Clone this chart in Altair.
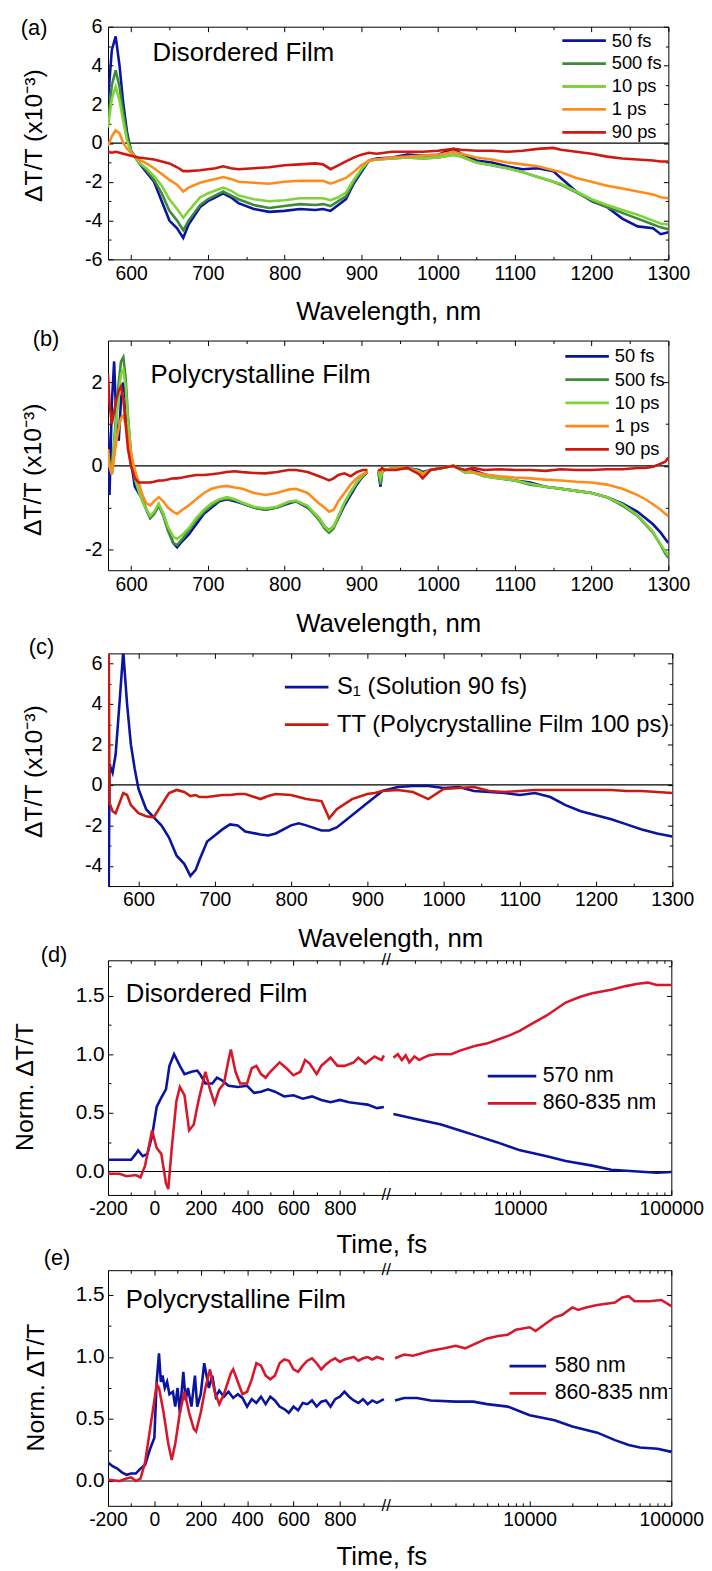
import altair as alt
import pandas as pd

FONT = "Liberation Sans"
TM, Tm = 5, 3

# ---------------- panel (a): disordered film ----------------
wl_a = [570, 575, 580, 585, 590, 595, 600, 610, 620, 630, 640, 650, 660, 668, 675,
        690, 700, 710, 720, 730, 740, 760, 780, 800, 820, 840, 850, 860, 870, 880,
        890, 900, 910, 920, 940, 960, 980, 1000, 1020, 1030, 1050, 1070, 1090, 1110,
        1130, 1150, 1160, 1180, 1200, 1220, 1240, 1260, 1280, 1290, 1300]
a_50fs = [2.2, 4.8, 5.5, 4.0, 2.0, 0.5, -0.4, -1.0, -1.5, -2.0, -3.0, -4.0, -4.4, -4.9, -4.2,
          -3.3, -3.0, -2.8, -2.6, -2.8, -3.1, -3.4, -3.55, -3.5, -3.4, -3.45, -3.4, -3.5, -3.2, -2.9,
          -2.1, -1.5, -0.9, -0.8, -0.75, -0.6, -0.65, -0.6, -0.3, -0.55, -0.9, -1.0, -1.2, -1.35,
          -1.3, -1.45, -1.8, -2.5, -3.0, -3.3, -3.9, -4.3, -4.4, -4.7, -4.6]
a_500fs = [1.0, 3.0, 3.75, 2.9, 1.5, 0.3, -0.4, -1.0, -1.4, -1.9, -2.6, -3.5, -4.0, -4.5, -4.0,
           -3.2, -2.9, -2.7, -2.5, -2.7, -2.9, -3.2, -3.35, -3.25, -3.15, -3.2, -3.15, -3.25, -3.0, -2.75,
           -2.0, -1.4, -0.9, -0.85, -0.8, -0.75, -0.8, -0.75, -0.6, -0.7, -1.0, -1.15, -1.3, -1.5,
           -1.75, -2.0, -2.15, -2.55, -2.95, -3.3, -3.6, -3.9, -4.2, -4.35, -4.45]
a_10ps = [0.8, 2.3, 2.9, 2.2, 1.1, 0.1, -0.45, -1.0, -1.3, -1.7, -2.2, -2.9, -3.4, -3.85, -3.5,
          -2.8, -2.6, -2.45, -2.3, -2.45, -2.7, -2.9, -3.0, -2.95, -2.85, -2.85, -2.85, -2.95, -2.8, -2.55,
          -1.9, -1.35, -0.9, -0.85, -0.8, -0.75, -0.8, -0.75, -0.6, -0.7, -1.0, -1.15, -1.3, -1.5,
          -1.75, -2.0, -2.1, -2.5, -2.9, -3.2, -3.45, -3.7, -4.0, -4.15, -4.2]
a_1ps = [-0.15, 0.35, 0.65, 0.5, 0.0, -0.3, -0.5, -0.85, -1.05, -1.3, -1.6, -1.9, -2.15, -2.5, -2.3,
         -2.05, -1.95, -1.85, -1.75, -1.85, -2.0, -2.05, -2.1, -2.0, -1.95, -1.95, -1.95, -2.1, -1.95, -1.8,
         -1.5, -1.15, -0.9, -0.85, -0.75, -0.7, -0.65, -0.6, -0.45, -0.55, -0.75, -0.85, -1.0, -1.1,
         -1.2, -1.4, -1.5, -1.8, -2.0, -2.2, -2.35, -2.5, -2.65, -2.8, -2.85]
a_90ps = [-0.45, -0.5, -0.45, -0.5, -0.55, -0.6, -0.65, -0.75, -0.8, -0.85, -0.95, -1.05, -1.25, -1.45, -1.45,
          -1.4, -1.35, -1.3, -1.2, -1.3, -1.35, -1.3, -1.25, -1.15, -1.1, -1.05, -1.1, -1.35, -1.15, -0.95,
          -0.75, -0.6, -0.5, -0.55, -0.45, -0.45, -0.45, -0.4, -0.3, -0.35, -0.4, -0.4, -0.45, -0.4,
          -0.3, -0.25, -0.35, -0.45, -0.55, -0.7, -0.8, -0.85, -0.9, -0.95, -0.95]

# ---------------- panel (b): polycrystalline film ----------------
wl_b1 = [570, 572, 575, 578, 581, 584, 587, 590, 593, 596, 600, 605, 610, 615, 620, 625, 630, 636,
         642, 648, 655, 660, 667, 675, 685, 695, 705, 715, 725, 735, 745, 760, 775, 790, 805, 815,
         830, 845, 852, 858, 864, 870, 878, 886, 894, 902, 908]
wl_b2 = [922, 925, 927, 930, 945, 960, 975, 980, 990, 1005, 1020, 1025, 1035, 1045, 1060, 1080,
         1100, 1120, 1140, 1160, 1180, 1200, 1220, 1240, 1260, 1270, 1280, 1290, 1296, 1300]
b1_50fs = [0.8, -0.7, 1.5, 2.5, 1.0, 0.6, 1.6, 2.0, 1.6, 0.9, 0.1, -0.5, -0.65, -0.8, -1.05, -1.25, -1.15, -0.95,
           -1.15, -1.5, -1.85, -1.95, -1.8, -1.65, -1.4, -1.15, -1.0, -0.85, -0.8, -0.85, -0.9, -1.0, -1.05, -1.0,
           -0.9, -0.85, -1.0, -1.25, -1.45, -1.55, -1.45, -1.25, -0.95, -0.7, -0.45, -0.25, -0.15]
b2_50fs = [-0.1, -0.5, -0.15, -0.1, -0.05, -0.05, -0.1, -0.15, -0.1, -0.05, 0.0, -0.05, -0.15, -0.1, -0.2, -0.3,
           -0.35, -0.4, -0.5, -0.55, -0.6, -0.65, -0.75, -0.9, -1.1, -1.25, -1.4, -1.6, -1.75, -1.85]
b1_500fs = [0.4, 0.0, -0.2, 0.6, 1.3, 2.0, 2.5, 2.6, 2.1, 1.2, 0.3, -0.3, -0.6, -0.85, -1.05, -1.25, -1.15, -0.95,
            -1.2, -1.55, -1.85, -1.9, -1.75, -1.55, -1.3, -1.1, -0.95, -0.82, -0.78, -0.82, -0.9, -1.0, -1.05, -1.0,
            -0.88, -0.85, -0.98, -1.3, -1.5, -1.6, -1.5, -1.25, -0.9, -0.65, -0.4, -0.25, -0.15]
b2_500fs = [-0.1, -0.45, -0.15, -0.1, -0.05, -0.05, -0.15, -0.2, -0.1, -0.05, 0.0, -0.05, -0.15, -0.15, -0.25, -0.3,
            -0.35, -0.45, -0.5, -0.55, -0.6, -0.65, -0.75, -0.95, -1.2, -1.4, -1.6, -1.9, -2.1, -2.2]
b1_10ps = [0.3, 0.0, -0.2, 0.5, 1.1, 1.7, 2.2, 2.3, 1.9, 1.1, 0.3, -0.3, -0.6, -0.85, -1.05, -1.2, -1.1, -0.9,
           -1.15, -1.45, -1.7, -1.75, -1.65, -1.5, -1.25, -1.05, -0.9, -0.8, -0.75, -0.8, -0.88, -0.98, -1.02, -0.98,
           -0.86, -0.83, -0.96, -1.25, -1.45, -1.55, -1.45, -1.2, -0.88, -0.62, -0.4, -0.22, -0.12]
b2_10ps = [-0.1, -0.3, -0.15, -0.1, -0.05, -0.05, -0.12, -0.18, -0.1, -0.05, 0.0, -0.05, -0.15, -0.15, -0.25, -0.3,
           -0.35, -0.43, -0.5, -0.55, -0.6, -0.65, -0.75, -0.92, -1.18, -1.38, -1.58, -1.88, -2.05, -2.15]
b1_1ps = [0.4, 0.0, -0.2, 0.2, 0.6, 0.9, 1.15, 1.2, 1.0, 0.7, 0.3, -0.1, -0.4, -0.7, -0.9, -0.95, -0.85, -0.75,
          -0.85, -1.0, -1.1, -1.15, -1.05, -0.95, -0.8, -0.65, -0.55, -0.5, -0.48, -0.52, -0.55, -0.65, -0.7, -0.65,
          -0.57, -0.55, -0.65, -0.9, -1.0, -1.1, -1.05, -0.85, -0.65, -0.45, -0.3, -0.2, -0.15]
b2_1ps = [-0.1, -0.15, -0.1, -0.1, -0.05, -0.05, -0.15, -0.2, -0.1, -0.05, 0.0, -0.05, -0.1, -0.15, -0.2, -0.25,
          -0.28, -0.3, -0.33, -0.35, -0.38, -0.4, -0.45, -0.55, -0.7, -0.8, -0.92, -1.05, -1.15, -1.2]
b1_90ps = [2.2, 1.5, 1.0, 1.3, 1.6, 1.8, 1.9, 1.6, 1.0, 0.4, 0.0, -0.3, -0.4, -0.4, -0.4, -0.4, -0.38, -0.35,
           -0.35, -0.33, -0.3, -0.3, -0.28, -0.25, -0.22, -0.22, -0.2, -0.18, -0.15, -0.13, -0.15, -0.17, -0.18, -0.15,
           -0.1, -0.1, -0.15, -0.25, -0.3, -0.35, -0.3, -0.22, -0.18, -0.25, -0.15, -0.1, -0.1]
b2_90ps = [-0.1, -0.1, -0.05, -0.1, -0.1, -0.05, -0.2, -0.3, -0.1, -0.05, 0.0, -0.05, -0.1, -0.05, -0.1, -0.08,
           -0.1, -0.1, -0.12, -0.08, -0.1, -0.1, -0.08, -0.08, -0.05, -0.05, -0.02, 0.05, 0.1, 0.2]

# ---------------- panel (c): S1 vs TT ----------------
wl_c = [561, 562, 566, 570, 575, 580, 585, 590, 595, 600, 610, 620, 630, 640, 650, 660, 668, 675, 680, 690,
        700, 710, 720, 730, 740, 760, 770, 780, 800, 810, 820, 840, 850, 860, 880, 900, 910, 920, 940, 960,
        980, 1000, 1020, 1040, 1060, 1080, 1100, 1120, 1140, 1160, 1180, 1200, 1220, 1240, 1260, 1280, 1300]
c_s1 = [-5.0, 1.0, 0.6, 1.5, 4.0, 6.6, 4.0, 2.0, 0.8, -0.2, -1.2, -1.6, -2.0, -2.6, -3.5, -3.9, -4.5, -4.2, -3.7, -2.8,
        -2.5, -2.2, -1.95, -2.0, -2.3, -2.45, -2.5, -2.4, -2.0, -1.9, -2.0, -2.25, -2.25, -2.1, -1.5, -0.9, -0.6, -0.3, -0.1, -0.05,
        -0.05, -0.15, -0.1, -0.3, -0.35, -0.4, -0.5, -0.4, -0.6, -1.0, -1.3, -1.5, -1.7, -1.95, -2.2, -2.4, -2.55]
c_tt = [6.5, -0.9, -1.3, -1.4, -0.9, -0.4, -0.5, -1.0, -1.2, -1.4, -1.55, -1.6, -1.0, -0.4, -0.25, -0.35, -0.55, -0.5, -0.6, -0.6,
        -0.55, -0.5, -0.5, -0.45, -0.45, -0.7, -0.55, -0.45, -0.5, -0.6, -0.7, -0.8, -1.65, -1.2, -0.7, -0.45, -0.4, -0.3, -0.25, -0.35,
        -0.7, -0.2, -0.15, -0.1, -0.3, -0.35, -0.3, -0.25, -0.25, -0.25, -0.25, -0.25, -0.25, -0.3, -0.3, -0.35, -0.4]

# ---------------- panel (d): disordered film kinetics ----------------
d_570_t1 = [-200, -150, -100, -80, -70, -50, -30, -10, 10, 30, 50, 65, 85, 110, 130, 160, 185, 200, 220, 250,
            270, 290, 320, 360, 400, 430, 460, 490, 520, 560, 600, 640, 680, 720, 760, 800, 840, 880, 920, 960, 990]
d_570_v1 = [0.1, 0.1, 0.1, 0.15, 0.18, 0.13, 0.15, 0.3, 0.55, 0.63, 0.7, 0.9, 1.0, 0.9, 0.83, 0.85, 0.86, 0.82, 0.75, 0.75,
            0.8, 0.78, 0.73, 0.72, 0.73, 0.67, 0.68, 0.7, 0.68, 0.64, 0.65, 0.62, 0.64, 0.61, 0.59, 0.61, 0.59, 0.58, 0.57, 0.54, 0.55]
d_860_t1 = [-200, -150, -120, -80, -60, -40, -10, 10, 30, 50, 60, 75, 95, 110, 130, 150, 170, 190, 220, 240,
            260, 280, 300, 320, 330, 350, 370, 400, 420, 440, 460, 480, 500, 540, 570, 600, 630, 650, 670, 700,
            720, 760, 790, 820, 860, 880, 910, 950, 980, 990]
d_860_v1 = [-0.02, -0.02, -0.04, -0.03, -0.05, 0.05, 0.35, 0.2, 0.15, -0.1, -0.15, 0.2, 0.6, 0.72, 0.65, 0.35, 0.4, 0.6, 0.85, 0.7,
            0.58, 0.7, 0.75, 0.95, 1.04, 0.85, 0.75, 0.75, 0.88, 0.9, 0.83, 0.8, 0.85, 0.93, 0.88, 0.82, 0.85, 0.95, 0.92, 0.83,
            0.9, 0.97, 0.9, 0.9, 0.93, 0.97, 0.92, 0.98, 0.95, 0.99]
d_570_t2 = [1450, 2000, 3000, 4000, 5000, 7000, 10000, 15000, 20000, 30000, 40000, 60000, 80000, 100000]
d_570_v2 = [0.49, 0.45, 0.40, 0.35, 0.31, 0.25, 0.18, 0.13, 0.09, 0.05, 0.015, 0.0, -0.01, -0.005]
d_860_t2 = [1450, 1550, 1650, 1750, 1850, 2000, 2150, 2300, 2500, 2800, 3000, 3500, 4000, 5000, 6000, 7000, 8500,
            10000, 12000, 15000, 20000, 25000, 30000, 40000, 50000, 60000, 70000, 80000, 100000]
d_860_v2 = [0.97, 1.0, 0.95, 0.99, 0.93, 0.98, 0.95, 0.97, 0.99, 1.0, 1.0, 1.0, 1.03, 1.07, 1.09, 1.12, 1.16,
            1.2, 1.26, 1.33, 1.44, 1.49, 1.52, 1.55, 1.58, 1.6, 1.61, 1.59, 1.59]

# ---------------- panel (e): polycrystalline film kinetics ----------------
e_580_t1 = [-200, -180, -160, -140, -120, -100, -80, -60, -40, -20, 0, 10, 20, 28, 35, 45, 55, 65, 80, 90,
            100, 110, 125, 135, 145, 160, 175, 185, 200, 215, 225, 235, 250, 265, 280, 300, 320, 340, 360, 380,
            400, 420, 440, 460, 480, 500, 520, 540, 560, 580, 600, 620, 640, 660, 680, 700, 720, 740, 760, 780,
            800, 820, 840, 860, 880, 900, 920, 940, 960, 990]
e_580_v1 = [0.15, 0.12, 0.1, 0.07, 0.05, 0.06, 0.06, 0.1, 0.13, 0.25, 0.35, 0.8, 1.03, 0.8, 0.85, 0.75, 0.8, 0.7, 0.72, 0.6,
            0.75, 0.55, 0.88, 0.65, 0.75, 0.6, 0.85, 0.6, 0.7, 0.95, 0.85, 0.75, 0.85, 0.68, 0.73, 0.68, 0.72, 0.67, 0.7, 0.67,
            0.6, 0.66, 0.63, 0.68, 0.62, 0.68, 0.65, 0.6, 0.58, 0.55, 0.6, 0.57, 0.63, 0.62, 0.65, 0.6, 0.64, 0.65, 0.6, 0.66,
            0.68, 0.72, 0.68, 0.65, 0.63, 0.66, 0.62, 0.65, 0.63, 0.66]
e_860_t1 = [-200, -150, -120, -100, -80, -60, -40, -20, 0, 10, 20, 40, 60, 75, 90, 110, 130, 150, 170, 180,
            200, 220, 240, 260, 280, 300, 330, 340, 360, 380, 400, 420, 440, 460, 480, 500, 520, 540, 560, 580,
            600, 620, 640, 660, 680, 700, 720, 740, 760, 780, 800, 820, 840, 860, 880, 900, 920, 940, 960, 990]
e_860_v1 = [0.01, 0.0, 0.02, 0.03, 0.0, 0.02, 0.15, 0.4, 0.65, 0.78, 0.75, 0.55, 0.3, 0.17, 0.3, 0.55, 0.72, 0.55, 0.42, 0.4,
            0.55, 0.75, 0.9, 0.72, 0.62, 0.7, 0.87, 0.9, 0.8, 0.7, 0.72, 0.82, 0.95, 0.93, 0.85, 0.82, 0.85, 0.95, 0.98, 0.97,
            0.9, 0.88, 0.93, 0.97, 0.99, 0.95, 0.9, 0.94, 0.97, 0.99, 0.96, 0.98, 0.99, 1.0, 0.97, 0.99, 1.0, 0.98, 1.0, 0.98]
e_580_t2 = [1120, 1300, 1600, 2000, 3000, 4000, 5000, 7000, 10000, 15000, 20000, 30000, 40000, 50000, 60000, 80000, 100000]
e_580_v2 = [0.65, 0.67, 0.67, 0.65, 0.64, 0.64, 0.62, 0.6, 0.53, 0.49, 0.44, 0.39, 0.33, 0.29, 0.27, 0.26, 0.235]
e_860_t2 = [1120, 1300, 1500, 2000, 2500, 3000, 3500, 4000, 5000, 6000, 7000, 8000, 10000, 11000, 13000, 15000, 17000,
            20000, 22000, 25000, 30000, 40000, 45000, 50000, 55000, 70000, 85000, 100000]
e_860_v2 = [0.99, 1.02, 1.01, 1.05, 1.07, 1.09, 1.07, 1.1, 1.15, 1.17, 1.18, 1.22, 1.24, 1.21, 1.27, 1.32, 1.34,
            1.4, 1.38, 1.4, 1.42, 1.44, 1.48, 1.49, 1.45, 1.45, 1.46, 1.41]

# ---------------- series names / colours ----------------
names_ab = ["50 fs", "500 fs", "10 ps", "1 ps", "90 ps"]
colors_ab = ["#0a14a0", "#3c8c36", "#7ed23a", "#ff8c1a", "#cc1a10"]
names_c = ["S\u2081 (Solution 90 fs)", "TT (Polycrystalline Film 100 ps)"]
colors_c = ["#0a14a0", "#cc1a10"]
names_d = ["570 nm", "860-835 nm"]
names_e = ["580 nm", "860-835 nm"]
colors_de = ["#0a14a0", "#d8182a"]


def series_df(entries):
    rows = []
    for name, seg, xs, ys in entries:
        if len(xs) != len(ys):
            raise ValueError(f"length mismatch {name}/{seg}: {len(xs)} vs {len(ys)}")
        for xv, yv in zip(xs, ys):
            rows.append({"x": xv, "y": yv, "s": name, "k": f"{name}|{seg}"})
    return pd.DataFrame(rows)


ONE = pd.DataFrame({"z": [0]})


def tick_axis(orient, values, size):
    return alt.Axis(orient=orient, values=values, tickSize=size, offset=-size, ticks=True,
                    tickColor="black", tickWidth=1, domain=False, grid=False, labels=False, title=None)


def dom_axis(orient):
    return alt.Axis(orient=orient, domain=True, domainColor="black", domainWidth=1, ticks=False,
                    labels=False, grid=False, title=None)


def leg(line_x, row1_y, fs, spacing, length, gap=4):
    s = length / 3.0
    rowh = max(s, fs)
    return alt.Legend(orient="none", legendX=line_x + s, legendY=row1_y - rowh / 2, title=None,
                      symbolType="M-3,0H3", symbolSize=s * s, symbolStrokeWidth=2.8,
                      labelFontSize=fs, labelFont=FONT, labelColor="black",
                      rowPadding=spacing - rowh, labelOffset=s + gap, labelLimit=600, padding=0)


def text_layer(txt, x, y, size, align="left"):
    return alt.Chart(ONE).mark_text(text=txt, fontSize=size, font=FONT, align=align,
                                    baseline="middle", color="black").encode(
        x=alt.value(x), y=alt.value(y))


def panel(df, names, colors, legend, xdom, ydom, w, h, xmaj, xmin, ymaj, ymin,
          xtype="linear", left=True, right=True, xtitle=None, xtitle_x=None, xtitle_y=53,
          ytitle=None, ytitle_x=-75, ytitle_y=None, ylabpad=6, ylabsize=20,
          yexpr="datum.value + ''", texts=(), marker=None):
    if xtype == "log":
        xsc = alt.Scale(domain=xdom, type="log", nice=False)
    else:
        xsc = alt.Scale(domain=xdom, nice=False, zero=False)
    ysc = alt.Scale(domain=ydom, nice=False, zero=False)

    def X(ax):
        return alt.X("x:Q", scale=xsc, axis=ax)

    def Y(ax):
        return alt.Y("y:Q", scale=ysc, axis=ax)

    xa = dict(orient="bottom", values=xmaj, tickSize=TM, offset=-TM, ticks=True, tickColor="black",
              tickWidth=1, domain=False, grid=False, labels=True, labelFont=FONT, labelFontSize=19.5,
              labelColor="black", labelPadding=5, labelExpr="datum.value + ''", labelFlush=False,
              labelOverlap=False)
    if xtitle:
        xa.update(title=xtitle, titleFont=FONT, titleFontSize=26, titleFontWeight="normal",
                  titleColor="black", titleX=(xtitle_x if xtitle_x is not None else w / 2),
                  titleY=xtitle_y + TM, titleBaseline="middle", titleAlign="center")
    else:
        xa["title"] = None
    ya = None
    if left:
        ya = alt.Axis(orient="left", values=ymaj, tickSize=TM, offset=-TM, ticks=True, tickColor="black",
                      tickWidth=1, domain=False, grid=False, labels=True, labelFont=FONT,
                      labelFontSize=ylabsize, labelColor="black", labelPadding=ylabpad, labelExpr=yexpr,
                      labelFlush=False, labelOverlap=False, title=ytitle, titleFont=FONT,
                      titleFontSize=25, titleFontWeight="normal", titleColor="black",
                      titleX=ytitle_x - TM, titleY=(ytitle_y if ytitle_y is not None else h / 2),
                      titleBaseline="middle", titleAlign="center", titleAngle=270)

    lines = alt.Chart(df).mark_line(strokeWidth=2.6, clip=True).encode(
        x=X(alt.Axis(**xa)), y=Y(ya),
        color=alt.Color("s:N", scale=alt.Scale(domain=names, range=colors), legend=legend),
        detail="k:N")
    inv = alt.Chart(df).mark_point(opacity=0, clip=True)
    layers = [
        inv.encode(x=X(dom_axis("bottom")), y=Y(dom_axis("left") if left else None)),
        inv.encode(x=X(dom_axis("top")), y=Y(dom_axis("right") if right else None)),
        inv.encode(x=X(tick_axis("bottom", xmin, Tm)), y=Y(tick_axis("left", ymin, Tm) if left else None)),
        inv.encode(x=X(tick_axis("top", xmaj, TM)), y=Y(tick_axis("right", ymaj, TM) if right else None)),
        inv.encode(x=X(tick_axis("top", xmin, Tm)), y=Y(tick_axis("right", ymin, Tm) if right else None)),
        alt.Chart(pd.DataFrame({"y": [0]})).mark_rule(color="black", strokeWidth=1.2).encode(y=Y(None)),
        lines,
    ]
    layers += list(texts)
    if marker is not None:
        top, bottom = marker
        layers.append(alt.Chart(ONE).mark_rule(strokeOpacity=0, stroke="white").encode(
            x=alt.value(-100), y=alt.value(-top), y2=alt.value(h + bottom)))
    return alt.layer(*layers).resolve_axis(x="independent", y="independent").properties(
        width=w, height=h)


W = 566
wl_maj = [600, 700, 800, 900, 1000, 1100, 1200, 1300]
wl_min = [650, 750, 850, 950, 1050, 1150, 1250]
YT = "\u0394T/T (x10\u207b\u00b3)"

# (a)
HA = 235
df_a = series_df([(n, 0, wl_a, v) for n, v in zip(names_ab, [a_50fs, a_500fs, a_10ps, a_1ps, a_90ps])])
pa = panel(df_a, names_ab, colors_ab, leg(457, 14, 18.5, 22.7, 44), [570, 1300], [-6, 6], W, HA,
           wl_maj, wl_min, [-6, -4, -2, 0, 2, 4, 6], [-5, -3, -1, 1, 3, 5],
           xtitle="Wavelength, nm", xtitle_y=53, ytitle=YT, ytitle_x=-75, ytitle_y=HA / 2 - 8,
           texts=[text_layer("(a)", -88, 1, 22), text_layer("Disordered Film", 45, 27, 26)],
           marker=(11, 70))

# (b)
df_b = series_df([(n, 1, wl_b1, v1) for n, v1 in zip(names_ab, [b1_50fs, b1_500fs, b1_10ps, b1_1ps, b1_90ps])] +
                 [(n, 2, wl_b2, v2) for n, v2 in zip(names_ab, [b2_50fs, b2_500fs, b2_10ps, b2_1ps, b2_90ps])])
pb = panel(df_b, names_ab, colors_ab, leg(460, 16, 18.5, 23, 44), [570, 1300], [-2.5, 3], W, 232,
           wl_maj, wl_min, [-2, 0, 2], [-1, 1], xtitle="Wavelength, nm", xtitle_y=54,
           ytitle=YT, ytitle_x=-76, ytitle_y=116 + 14,
           texts=[text_layer("(b)", -76, -1, 22), text_layer("Polycrystalline Film", 43, 35, 26)],
           marker=(32, 70))

# (c)
df_c = series_df([(names_c[0], 0, wl_c, c_s1), (names_c[1], 0, wl_c, c_tt)])
pc = panel(df_c, names_c, colors_c, leg(174, 34, 24, 38, 44), [560, 1300], [-5, 6.5], 570, 235,
           wl_maj, wl_min, [-4, -2, 0, 2, 4, 6], [-5, -3, -1, 1, 3, 5], xtitle="Wavelength, nm",
           xtitle_y=53, ytitle=YT, ytitle_x=-75, ytitle_y=117 + 2,
           texts=[text_layer("(c)", -80, -6, 22)], marker=(34, 70))

# (d)
WL, WR = 281, 288
t_maj = [-200, 0, 200, 400, 600, 800]
t_min = [-100, 100, 300, 500, 700, 900]
log_maj = [10000, 100000]
log_min = [2000, 3000, 4000, 5000, 6000, 7000, 8000, 9000,
           20000, 30000, 40000, 50000, 60000, 70000, 80000, 90000]
n_maj = [0, 0.5, 1.0, 1.5]
n_min = [0.25, 0.75, 1.25, 1.75]
NT = "Norm. \u0394T/T"
YEXPR = "format(datum.value, '.1f')"
brk = lambda w, h: [text_layer("//", w, 0, 17, "center"), text_layer("//", w, h, 17, "center")]

df_d1 = series_df([(names_d[0], 1, d_570_t1, d_570_v1), (names_d[1], 1, d_860_t1, d_860_v1)])
df_d2 = series_df([(names_d[0], 2, d_570_t2, d_570_v2), (names_d[1], 2, d_860_t2, d_860_v2)])
HD = 237
pd_l = panel(df_d1, names_d, colors_de, None, [-200, 1000], [-0.2, 1.8], WL, HD, t_maj, t_min,
             n_maj, n_min, right=False, xtitle="Time, fs", xtitle_x=276, xtitle_y=50,
             ytitle=NT, ytitle_x=-84, ytitle_y=HD / 2 + 9, ylabpad=4, ylabsize=21, yexpr=YEXPR,
             texts=[text_layer("(d)", -68, -5, 22), text_layer("Disordered Film", 18, 34, 26)] + brk(WL, HD),
             marker=(25, 70))
pd_r = panel(df_d2, names_d, colors_de, leg(100, 117, 21.5, 26, 49), [1300, 100000], [-0.2, 1.8], WR, HD,
             log_maj, log_min, n_maj, n_min, xtype="log", left=False)
pdd = alt.hconcat(pd_l, pd_r, spacing=0, bounds="flush").resolve_scale(
    x="independent", y="independent", color="independent")

# (e)
df_e1 = series_df([(names_e[0], 1, e_580_t1, e_580_v1), (names_e[1], 1, e_860_t1, e_860_v1)])
df_e2 = series_df([(names_e[0], 2, e_580_t2, e_580_v2), (names_e[1], 2, e_860_t2, e_860_v2)])
HE = 238
pe_l = panel(df_e1, names_e, colors_de, None, [-200, 1000], [-0.2, 1.7], WL, HE, t_maj, t_min,
             n_maj, [0.25, 0.75, 1.25], right=False, xtitle="Time, fs", xtitle_x=276, xtitle_y=51,
             ytitle=NT, ytitle_x=-73, ytitle_y=HE / 2 - 1, ylabpad=4, ylabsize=21, yexpr=YEXPR,
             texts=[text_layer("(e)", -65, -12, 22), text_layer("Polycrystalline Film", 18, 30, 26)] + brk(WL, HE),
             marker=(26, 55))
pe_r = panel(df_e2, names_e, colors_de, leg(120, 97, 21.5, 26, 37), [970, 100000], [-0.2, 1.7], WR, HE,
             log_maj, log_min, n_maj, [0.25, 0.75, 1.25], xtype="log", left=False)
pee = alt.hconcat(pe_l, pe_r, spacing=0, bounds="flush").resolve_scale(
    x="independent", y="independent", color="independent")

chart = alt.vconcat(pa, pb, pc, pdd, pee, spacing=-20).resolve_scale(
    x="independent", y="independent", color="independent").properties(
    padding={"left": 1, "top": 0, "right": 0, "bottom": 0}).configure(font=FONT).configure_view(stroke=None)

chart.save("out.html", embed_options={"renderer": "svg", "actions": False})
